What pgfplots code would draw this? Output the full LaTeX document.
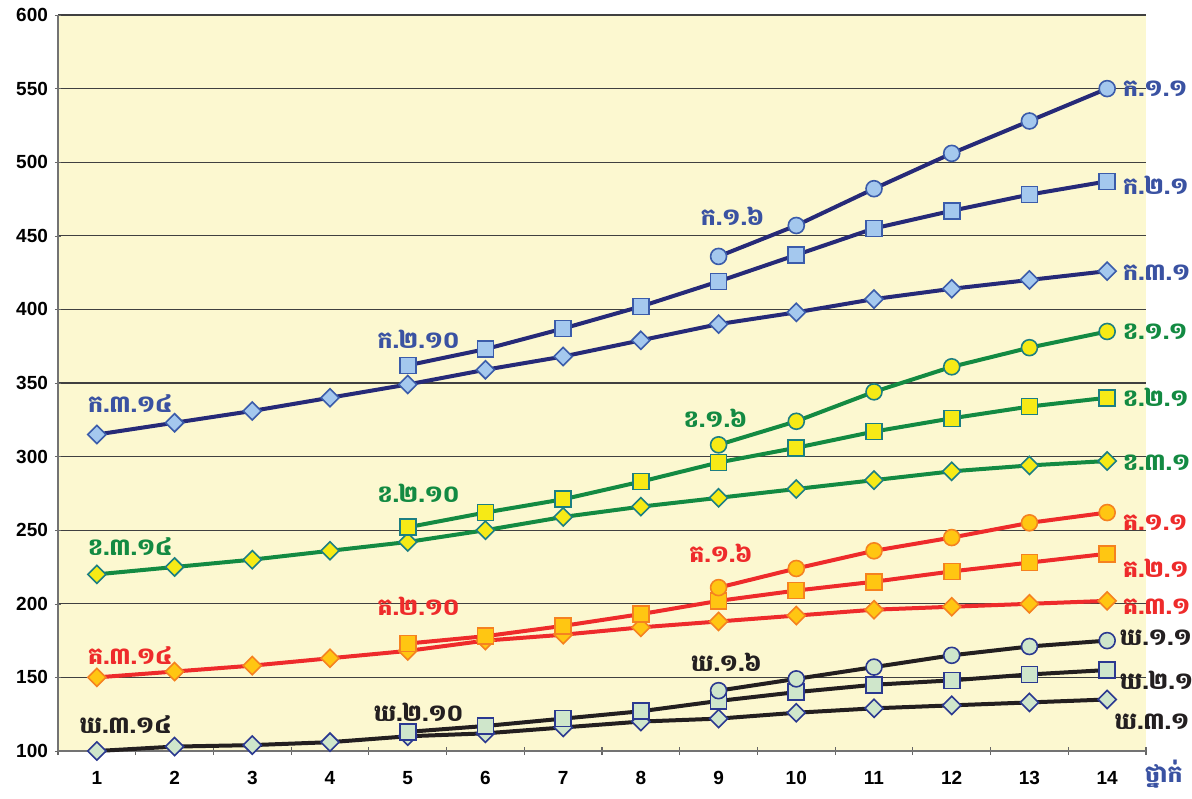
\documentclass[border=0pt]{standalone}
\usepackage{fontspec}
\setmainfont{Liberation Sans}
\newfontfamily\kh[Script=Khmer]{Battambang}
\usepackage{pgfplots}
\pgfplotsset{compat=1.18}

\definecolor{bgyel}{HTML}{FCF8D0}
\definecolor{navy}{HTML}{262A78}
\definecolor{kblue}{HTML}{3A52A2}
\definecolor{lblue}{HTML}{A4C8EE}
\definecolor{eblue}{HTML}{3B5CAA}
\definecolor{kgreen}{HTML}{138A42}
\definecolor{myel}{HTML}{F6EA16}
\definecolor{teal}{HTML}{1C7F82}
\definecolor{kred}{HTML}{EE2B2B}
\definecolor{amber}{HTML}{FFC612}
\definecolor{orng}{HTML}{F58220}
\definecolor{kblack}{HTML}{231F20}
\definecolor{pgreen}{HTML}{CFE6CB}
\definecolor{enavy}{HTML}{2B3990}

\pgfplotsset{
  ser/.style n args={3}{line width=2pt, color=#1, mark options={fill=#2, draw=#3, line width=0.8pt, solid}},
  circ/.style={mark=*, mark size=4pt},
  sq/.style={mark=square*, mark size=4pt},
  dia/.style={mark=square*, mark size=3.2pt, every mark/.append style={rotate=45}},
}
\tikzset{lab/.style={font=\kh\bfseries\fontsize{11.8}{14}\selectfont, inner sep=0pt}}

\begin{document}
\begin{tikzpicture}
\begin{axis}[
  name=ax,
  scale only axis,
  width=544pt, height=368pt,
  xmin=0.5, xmax=14.5,
  ymin=100, ymax=600,
  ytick={100,150,...,600},
  xtick={1,...,14},
  minor xtick={0.5,1.5,...,14.5},
  major x tick style={draw=none},
  minor x tick style={draw=gray!80!black, line width=0.6pt},
  minor tick length=4pt,
  major tick length=3pt,
  tick align=outside,
  ytick style={draw=gray!80!black},
  axis lines=left,
  axis line style={-, draw=gray!90!black, line width=0.8pt},
  ymajorgrids=true,
  grid style={draw=black!75, line width=0.6pt},
  axis background/.style={fill=bgyel},
  ticklabel style={font=\bfseries\fontsize{9.5}{11}\selectfont},
  xticklabel style={yshift=-5pt},
  /pgf/number format/assume math mode=true,
  clip=false,
]
% khor (blue)
\addplot[ser={navy}{lblue}{eblue}, dia] coordinates {
  (1,315) (2,323) (3,331) (4,340) (5,349) (6,359) (7,368)
  (8,379) (9,390) (10,398) (11,407) (12,414) (13,420) (14,426)};
\addplot[ser={navy}{lblue}{eblue}, sq] coordinates {
  (5,362) (6,373) (7,387) (8,402) (9,419) (10,437) (11,455)
  (12,467) (13,478) (14,487)};
\addplot[ser={navy}{lblue}{eblue}, circ] coordinates {
  (9,436) (10,457) (11,482) (12,506) (13,528) (14,550)};
% kho (green)
\addplot[ser={kgreen}{myel}{teal}, dia] coordinates {
  (1,220) (2,225) (3,230) (4,236) (5,242) (6,250) (7,259)
  (8,266) (9,272) (10,278) (11,284) (12,290) (13,294) (14,297)};
\addplot[ser={kgreen}{myel}{teal}, sq] coordinates {
  (5,252) (6,262) (7,271) (8,283) (9,296) (10,306) (11,317)
  (12,326) (13,334) (14,340)};
\addplot[ser={kgreen}{myel}{teal}, circ] coordinates {
  (9,308) (10,324) (11,344) (12,361) (13,374) (14,385)};
% ko (red)
\addplot[ser={kred}{amber}{orng}, dia] coordinates {
  (1,150) (2,154) (3,158) (4,163) (5,168) (6,175) (7,179)
  (8,184) (9,188) (10,192) (11,196) (12,198) (13,200) (14,202)};
\addplot[ser={kred}{amber}{orng}, sq] coordinates {
  (5,173) (6,178) (7,185) (8,193) (9,202) (10,209) (11,215)
  (12,222) (13,228) (14,234)};
\addplot[ser={kred}{amber}{orng}, circ] coordinates {
  (9,211) (10,224) (11,236) (12,245) (13,255) (14,262)};
% kho (black)
\addplot[ser={kblack}{pgreen}{enavy}, dia] coordinates {
  (1,100) (2,103) (3,104) (4,106) (5,110) (6,112) (7,116)
  (8,120) (9,122) (10,126) (11,129) (12,131) (13,133) (14,135)};
\addplot[ser={kblack}{pgreen}{enavy}, sq] coordinates {
  (5,113) (6,117) (7,122) (8,127) (9,134) (10,140) (11,145)
  (12,148) (13,152) (14,155)};
\addplot[ser={kblack}{pgreen}{enavy}, circ] coordinates {
  (9,141) (10,149) (11,157) (12,165) (13,171) (14,175)};

% labels
\node[lab, text=kblue] at (axis cs:1.43,336) {ក.៣.១៤};
\node[lab, text=kblue] at (axis cs:5.14,380) {ក.២.១០};
\node[lab, text=kblue] at (axis cs:9.18,463) {ក.១.៦};
\node[lab, text=kblue, anchor=west] at (axis cs:14.2,550) {ក.១.១};
\node[lab, text=kblue, anchor=west] at (axis cs:14.2,484) {ក.២.១};
\node[lab, text=kblue, anchor=west] at (axis cs:14.2,425) {ក.៣.១};

\node[lab, text=kgreen] at (axis cs:1.43,239) {ខ.៣.១៤};
\node[lab, text=kgreen] at (axis cs:5.14,275) {ខ.២.១០};
\node[lab, text=kgreen] at (axis cs:8.96,326) {ខ.១.៦};
\node[lab, text=kgreen, anchor=west] at (axis cs:14.2,385) {ខ.១.១};
\node[lab, text=kgreen, anchor=west] at (axis cs:14.2,340) {ខ.២.១};
\node[lab, text=kgreen, anchor=west] at (axis cs:14.2,296) {ខ.៣.១};

\node[lab, text=kred] at (axis cs:1.43,165) {គ.៣.១៤};
\node[lab, text=kred] at (axis cs:5.14,198) {គ.២.១០};
\node[lab, text=kred] at (axis cs:9.03,234) {គ.១.៦};
\node[lab, text=kred, anchor=west] at (axis cs:14.2,255) {គ.១.១};
\node[lab, text=kred, anchor=west] at (axis cs:14.2,224) {គ.២.១};
\node[lab, text=kred, anchor=west] at (axis cs:14.2,198) {គ.៣.១};

\node[lab, text=kblack] at (axis cs:1.37,118) {ឃ.៣.១៤};
\node[lab, text=kblack] at (axis cs:5.14,126) {ឃ.២.១០};
\node[lab, text=kblack] at (axis cs:9.1,160) {ឃ.១.៦};
\node[lab, text=kblack, anchor=west] at (axis cs:14.16,177) {ឃ.១.១};
\node[lab, text=kblack, anchor=west] at (axis cs:14.16,148) {ឃ.២.១};
\node[lab, text=kblack, anchor=west] at (axis cs:14.09,120) {ឃ.៣.១};

\node[lab, text=kblue] at (axis cs:14.73,84) {ថ្នាក់};
\end{axis}
\pgfresetboundingbox
\path ([xshift=-29pt,yshift=-23.5pt]ax.south west) rectangle ([xshift=23pt,yshift=7.5pt]ax.north east);
\end{tikzpicture}
\end{document}
